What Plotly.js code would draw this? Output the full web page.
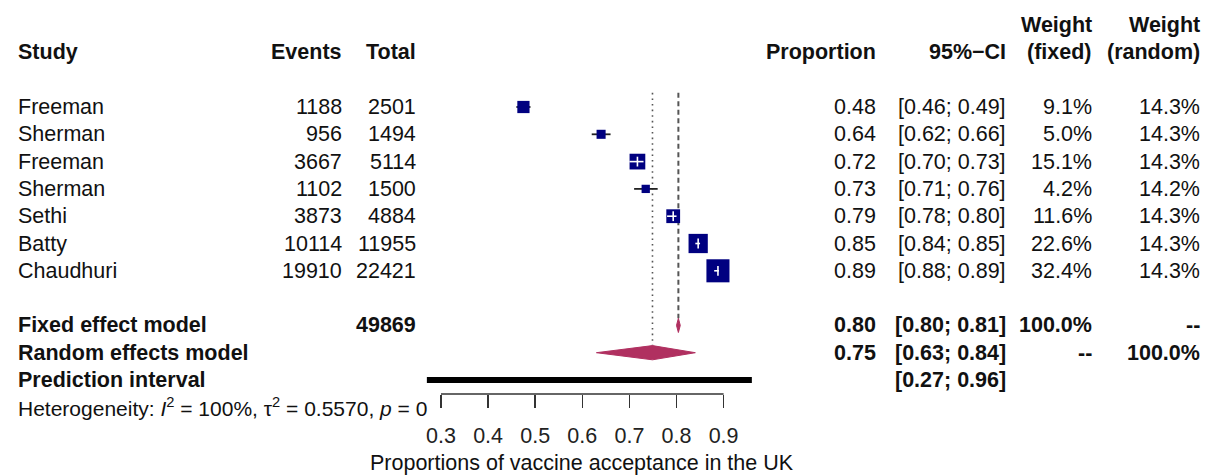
<!DOCTYPE html>
<html>
<head>
<meta charset="utf-8">
<script src="https://cdn.plot.ly/plotly-3.0.1.min.js"></script>
<style>
  html, body { margin: 0; padding: 0; background: #fff; }
  #chart { width: 1206px; height: 475px; }
</style>
</head>
<body>
<div id="chart"></div>
<script>
// ---------------- data ----------------
const studies = ['Freeman', 'Sherman', 'Freeman', 'Sherman', 'Sethi', 'Batty', 'Chaudhuri'];
const events = [1188, 956, 3667, 1102, 3873, 10114, 19910];
const totals = [2501, 1494, 5114, 1500, 4884, 11955, 22421];
const proportion = [0.48, 0.64, 0.72, 0.73, 0.79, 0.85, 0.89];
const ciLower = [0.46, 0.62, 0.70, 0.71, 0.78, 0.84, 0.88];
const ciUpper = [0.49, 0.66, 0.73, 0.76, 0.80, 0.85, 0.89];
const weightFixed = [9.1, 5.0, 15.1, 4.2, 11.6, 22.6, 32.4];
const weightRandom = [14.3, 14.3, 14.3, 14.2, 14.3, 14.3, 14.3];

const summaryLabels = ['Fixed effect model', 'Random effects model'];
const summaryEst = [0.804, 0.749];
const summaryLower = [0.800, 0.63];
const summaryUpper = [0.808, 0.84];
const summaryWeightFixed = ['100.0%', '--'];
const summaryWeightRandom = ['--', '100.0%'];
const totalParticipants = 49869;
const predictionInterval = [0.27, 0.96];
const heterogeneityText = 'Heterogeneity: <i>I</i><sup>2</sup> = 100%, \u03c4<sup>2</sup> = 0.5570, <i>p</i> = 0';

const tickVals = [0.3, 0.4, 0.5, 0.6, 0.7, 0.8, 0.9];
const xLabel = 'Proportions of vaccine acceptance in the UK';

// ---------------- layout constants ----------------
const W = 1206, H = 475;
const FONT = 'Liberation Sans, Arial, Helvetica, sans-serif';
const FS = 21.5;
const NAVY = '#000080';
const MAROON = '#B03060';
const X_LEFT = 0.3 - 441 / 471, X_RIGHT = 0.3 + (W - 441) / 471;   // px per unit = 471
const ROW0 = 107, ROWH = 27.3;
const Y_TOP = -ROW0 / ROWH, Y_BOT = (H - ROW0) / ROWH;
const pxPerUnit = W / (X_RIGHT - X_LEFT);

const nS = studies.length;
const rows = studies.map((_, i) => i);
const rowFixed = nS + 1, rowRandom = nS + 2, rowPred = nS + 3, rowHet = nS + 4;
const rowHeader = -2, rowHeader2 = -3;
const DIAM_H = 0.26;

// point estimates from the raw counts (they round to the printed proportions)
const estimate = rows.map(i => events[i] / totals[i]);
const sqSize = weightFixed.map(w => 4.05 * Math.sqrt(w));
const inside = rows.map(i => (ciUpper[i] - ciLower[i]) * pxPerUnit < sqSize[i]);

const traces = [];

// reference lines
traces.push({
  x: [summaryEst[1], summaryEst[1]], y: [-0.52, rowRandom - DIAM_H],
  mode: 'lines', line: {color: '#555', width: 1.6, dash: '1.6px,4px'}, hoverinfo: 'skip'
});
traces.push({
  x: [summaryEst[0], summaryEst[0]], y: [-0.52, rowFixed - DIAM_H],
  mode: 'lines', line: {color: '#555', width: 2, dash: '5px,3.5px'}, hoverinfo: 'skip'
});

// CI lines (outside squares) in black
const ciX = [], ciY = [];
rows.forEach(i => { if (!inside[i]) { ciX.push(ciLower[i], ciUpper[i], null); ciY.push(i, i, null); } });
traces.push({x: ciX, y: ciY, mode: 'lines', line: {color: '#222', width: 1.8}, hoverinfo: 'skip'});

// squares
traces.push({
  x: estimate, y: rows, mode: 'markers',
  marker: {symbol: 'square', size: sqSize, color: NAVY, opacity: 1, line: {width: 0}},
  hoverinfo: 'skip'
});

// CI lines inside squares in white
const wX = [], wY = [], wPx = [], wPy = [];
rows.forEach(i => { if (inside[i]) { wX.push(ciLower[i], ciUpper[i], null); wY.push(i, i, null); wPx.push(estimate[i]); wPy.push(i); } });
traces.push({x: wX, y: wY, mode: 'lines', line: {color: '#fff', width: 1.6}, hoverinfo: 'skip'});
traces.push({x: wPx, y: wPy, mode: 'markers', marker: {symbol: 'line-ns', size: 7, opacity: 1, line: {color: '#fff', width: 1.6}}, hoverinfo: 'skip'});

// diamonds
[rowFixed, rowRandom].forEach((r, k) => {
  traces.push({
    x: [summaryLower[k], summaryEst[k], summaryUpper[k], summaryEst[k], summaryLower[k]],
    y: [r, r - DIAM_H, r, r + DIAM_H, r],
    mode: 'lines', fill: 'toself', fillcolor: MAROON, line: {color: MAROON, width: 1},
    hoverinfo: 'skip'
  });
});

// prediction interval
traces.push({
  x: predictionInterval, y: [rowPred, rowPred], mode: 'lines',
  line: {color: '#000', width: 6}, hoverinfo: 'skip'
});

// ---------------- annotations (table text) ----------------
const ann = [];
const col = {study: 17, events: 343, total: 417, prop: 877, ci: 1007, wf: 1093, wr: 1201};
function txt(text, xpx, row, anchor, bold, size) {
  ann.push({
    xref: 'paper', yref: 'y', x: xpx / W, y: row, xanchor: anchor, yanchor: 'middle',
    text: bold ? '<b>' + text + '</b>' : text, showarrow: false,
    font: {family: FONT, size: size || FS, color: '#111'}, borderpad: 0
  });
}
const pct = v => v.toFixed(1) + '%';
const ci = (a, b) => '[' + a.toFixed(2) + '; ' + b.toFixed(2) + ']';

// header
txt('Study', col.study, rowHeader, 'left', true);
txt('Events', col.events, rowHeader, 'right', true);
txt('Total', col.total, rowHeader, 'right', true);
txt('Proportion', col.prop, rowHeader, 'right', true);
txt('95%\u2212CI', col.ci, rowHeader, 'right', true);
txt('Weight', col.wf, rowHeader2, 'right', true);
txt('(fixed)', col.wf, rowHeader, 'right', true);
txt('Weight', col.wr, rowHeader2, 'right', true);
txt('(random)', col.wr, rowHeader, 'right', true);

rows.forEach(i => {
  txt(studies[i], col.study, i, 'left', false);
  txt(String(events[i]), col.events, i, 'right', false);
  txt(String(totals[i]), col.total, i, 'right', false);
  txt(proportion[i].toFixed(2), col.prop, i, 'right', false);
  txt(ci(ciLower[i], ciUpper[i]), col.ci, i, 'right', false);
  txt(pct(weightFixed[i]), col.wf, i, 'right', false);
  txt(pct(weightRandom[i]), col.wr, i, 'right', false);
});

[rowFixed, rowRandom].forEach((r, k) => {
  txt(summaryLabels[k], col.study, r, 'left', true);
  if (k === 0) txt(String(totalParticipants), col.total, r, 'right', true);
  txt(summaryEst[k].toFixed(2), col.prop, r, 'right', true);
  txt(ci(summaryLower[k], summaryUpper[k]), col.ci, r, 'right', true);
  txt(summaryWeightFixed[k], col.wf, r, 'right', true);
  txt(summaryWeightRandom[k], col.wr, r, 'right', true);
});
txt('Prediction interval', col.study, rowPred, 'left', true);
txt(ci(predictionInterval[0], predictionInterval[1]), col.ci, rowPred, 'right', true);
txt(heterogeneityText, col.study, rowHet, 'left', false, 21);

// x label
ann.push({
  xref: 'x', yref: 'paper', x: (tickVals[0] + tickVals[tickVals.length - 1]) / 2, y: (H - 463) / H,
  xanchor: 'center', yanchor: 'middle', showarrow: false, text: xLabel,
  font: {family: FONT, size: FS, color: '#111'}
});

const AXIS_POS = (H - 394) / H;

const layout = {
  width: W, height: H,
  margin: {l: 0, r: 0, t: 0, b: 0, pad: 0},
  paper_bgcolor: '#fff', plot_bgcolor: '#fff',
  showlegend: false,
  font: {family: FONT, size: FS, color: '#111'},
  xaxis: {
    range: [X_LEFT, X_RIGHT], showgrid: false, zeroline: false, showline: false,
    tickvals: tickVals, ticktext: tickVals.map(v => v.toFixed(1)),
    ticks: 'outside', ticklen: 13, tickwidth: 1.5, tickcolor: '#333',
    ticklabelstandoff: 9,
    tickfont: {family: FONT, size: FS, color: '#222'},
    anchor: 'free', position: AXIS_POS, fixedrange: true
  },
  yaxis: {
    range: [Y_BOT, Y_TOP], visible: false, showgrid: false, zeroline: false, fixedrange: true
  },
  shapes: [{
    type: 'line', xref: 'x', yref: 'paper',
    x0: tickVals[0], x1: tickVals[tickVals.length - 1], y0: AXIS_POS, y1: AXIS_POS,
    line: {color: '#333', width: 1.5}
  }],
  annotations: ann
};

Plotly.newPlot('chart', traces, layout, {staticPlot: true, displayModeBar: false});
</script>
</body>
</html>
